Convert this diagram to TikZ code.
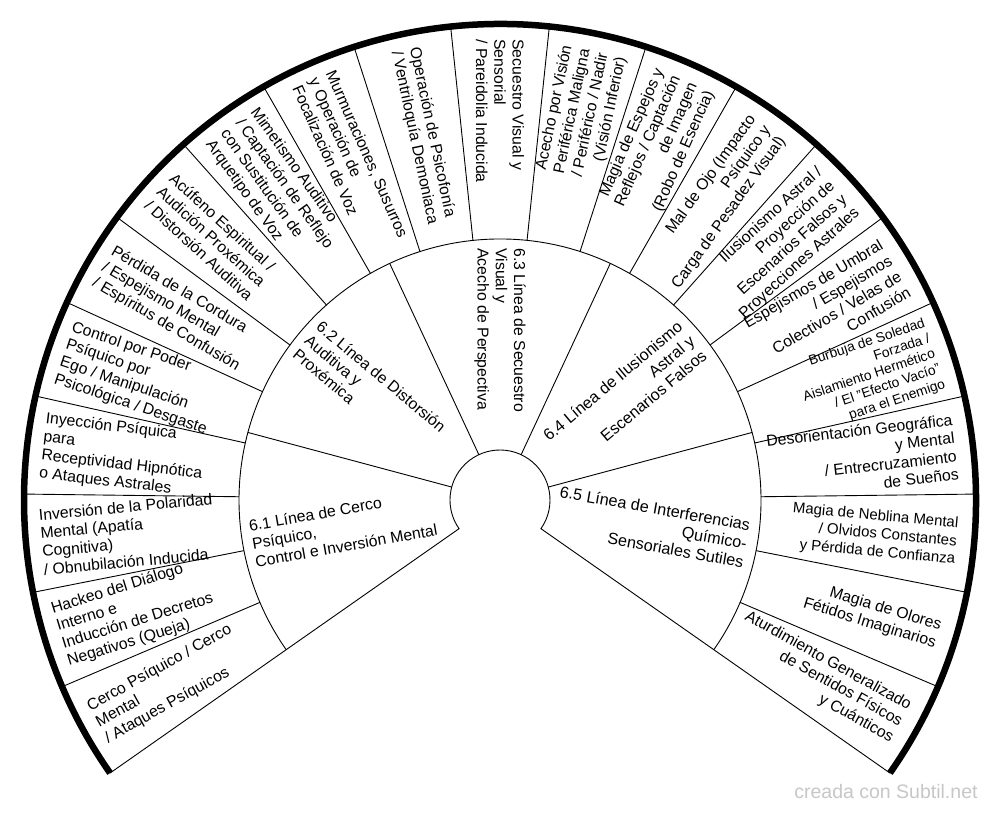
\documentclass[tikz,border=0pt]{standalone}
\usepackage{fontspec}
\setmainfont{Liberation Sans}

\begin{document}
\begin{tikzpicture}[x=1pt,y=1pt, line width=0.9pt,
        lbl/.style={font=\fontsize{15.8}{18.3}\selectfont, inner sep=0pt},
        lblL/.style={lbl, anchor=west, align=left, rotate=#1+180},
        lblR/.style={lbl, anchor=east, align=right, rotate=#1}]
                \path[use as bounding box, fill=white] (-500,-313) rectangle (500,500);
                % rings
                \draw (-35:476) -- (-35:50) arc[start angle=-35, end angle=215, radius=50pt] -- (215:476);
                \draw (-35:261) arc[start angle=-35, end angle=215, radius=261pt];
                \draw[line width=6.5pt] (-35:476) arc[start angle=-35, end angle=215, radius=476pt];
                \foreach \a in {15,65,115,165}
                    \draw (\a:50) -- (\a:261);
                \foreach \k in {1,...,20}
                    \draw ({-35+\k*250/21}:261) -- ({-35+\k*250/21}:476);
                % lineas
                \node[lblL=190] (linea1) at (190:252) {6.1 Línea de Cerco\\Psíquico,\\Control e Inversión Mental};
                \node[lblL=140] (linea2) at (140:252) {6.2 Línea de Distorsión\\Auditiva y\\Proxémica};
                \node[lblL=90] (linea3) at (90:252) {6.3 Línea de Secuestro\\Visual y\\Acecho de Perspectiva};
                \node[lblR=40, font=\fontsize{16.2}{18.8}\selectfont] (linea4) at (40:251) {6.4 Línea de Ilusionismo\\Astral y\\Escenarios Falsos};
                \node[lblR=-10, font=\fontsize{16.2}{18.8}\selectfont] (linea5) at (-10:251) {6.5 Línea de Interferencias\\Químico-\\Sensoriales Sutiles};
                % manifestaciones
                \node[lblL=209.05] (cerco) at (209.05:461) {Cerco Psíquico / Cerco\\Mental\\/ Ataques Psíquicos};
                \node[lblL=197.14] (hackeo) at (197.14:461) {Hackeo del Diálogo\\Interno e\\Inducción de Decretos\\Negativos (Queja)};
                \node[lblL=185.24] (inversion) at (185.24:461) {Inversión de la Polaridad\\Mental (Apatía\\Cognitiva)\\/ Obnubilación Inducida};
                \node[lblL=173.33] (inyeccion) at (173.33:461) {Inyección Psíquica\\para\\Receptividad Hipnótica\\o Ataques Astrales};
                \node[lblL=161.43] (control) at (161.43:461) {Control por Poder\\Psíquico por\\Ego / Manipulación\\Psicológica / Desgaste};
                \node[lblL=149.52] (perdida) at (149.52:461) {Pérdida de la Cordura\\/ Espejismo Mental\\/ Espíritus de Confusión};
                \node[lblL=137.62] (acufeno) at (137.62:461) {Acúfeno Espiritual /\\Audición Proxémica\\/ Distorsión Auditiva};
                \node[lblL=125.71] (mimetismo) at (125.71:461) {Mimetismo Auditivo\\/ Captación de Reflejo\\con Sustitución de\\Arquetipo de Voz};
                \node[lblL=113.81] (murmuraciones) at (113.81:461) {Murmuraciones, Susurros\\y Operación de\\Focalización de Voz};
                \node[lblL=101.90] (psicofonia) at (101.90:461) {Operación de Psicofonía\\/ Ventriloquía Demoniaca};
                \node[lblL=90] (secuestro) at (90:461) {Secuestro Visual y\\Sensorial\\/ Pareidolia Inducida};
                \node[lblR=78.10] (acecho) at (78.10:459) {Acecho por Visión\\Periférica Maligna\\/ Periférico / Nadir\\(Visión Inferior)};
                \node[lblR=66.19] (espejos) at (66.19:459) {Magia de Espejos y\\Reflejos / Captación\\de Imagen\\(Robo de Esencia)};
                \node[lblR=54.29] (malojo) at (54.29:459) {Mal de Ojo (Impacto\\Psíquico y\\Carga de Pesadez Visual)};
                \node[lblR=42.38] (ilusionismo) at (42.38:459) {Ilusionismo Astral /\\Proyección de\\Escenarios Falsos y\\Proyecciones Astrales};
                \node[lblR=30.48] (umbral) at (30.48:459) {Espejismos de Umbral\\/ Espejismos\\Colectivos / Velas de\\Confusión};
                \node[lblR=18.57, font=\fontsize{13.8}{16}\selectfont] (burbuja) at (18.57:459) {Burbuja de Soledad\\Forzada /\\Aislamiento Hermético\\/ El "Efecto Vacío"\\para el Enemigo};
                \node[lblR=6.67] (desorientacion) at (6.67:459) {Desorientación Geográfica\\y Mental\\/ Entrecruzamiento\\de Sueños};
                \node[lblR=-5.24, font=\fontsize{15}{18}\selectfont] (neblina) at (-5.24:459) {Magia de Neblina Mental\\/ Olvidos Constantes\\y Pérdida de Confianza};
                \node[lblR=-17.14] (olores) at (-17.14:459) {Magia de Olores\\Fétidos Imaginarios};
                \node[lblR=-29.05] (aturdimiento) at (-29.05:459) {Aturdimiento Generalizado\\de Sentidos Físicos\\y Cuánticos};
                \node[anchor=base east, inner sep=0pt, text=black!22, font=\fontsize{19.5}{22}\selectfont] (credito) at (478,-298) {creada con Subtil.net};
            \end{tikzpicture}
\end{document}
